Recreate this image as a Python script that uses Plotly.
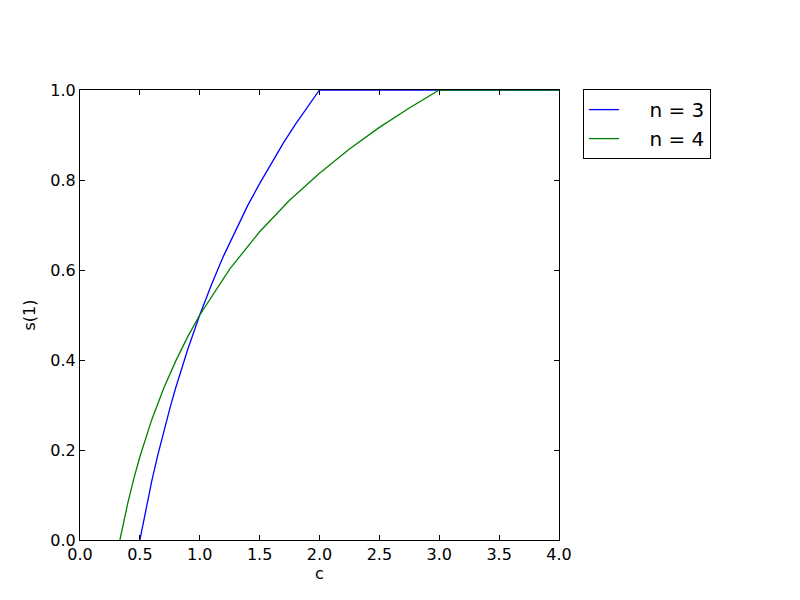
import plotly.graph_objects as go

# n = 3 series
c_n3 = [0.5, 0.525, 0.55, 0.575, 0.6, 0.65, 0.7, 0.75, 0.8, 0.9, 1.0, 1.1, 1.2, 1.3,
        1.4, 1.5, 1.6, 1.7, 1.8, 1.9, 2.0, 4.0]
s_n3 = [0.0, 0.035, 0.069, 0.101, 0.132, 0.189, 0.243, 0.292, 0.339, 0.424, 0.5, 0.569,
        0.632, 0.689, 0.743, 0.792, 0.839, 0.883, 0.924, 0.963, 1.0, 1.0]

# n = 4 series
c_n4 = [0.333, 0.36, 0.4, 0.45, 0.5, 0.6, 0.7, 0.8, 0.9, 1.0, 1.25, 1.5, 1.75, 2.0,
        2.25, 2.5, 2.75, 3.0, 4.0]
s_n4 = [0.0, 0.035, 0.083, 0.137, 0.185, 0.268, 0.338, 0.398, 0.452, 0.5, 0.602, 0.685,
        0.755, 0.815, 0.869, 0.917, 0.960, 1.0, 1.0]

series_names = ["n = 3", "n = 4"]

x_ticks = [0.0, 0.5, 1.0, 1.5, 2.0, 2.5, 3.0, 3.5, 4.0]
y_ticks = [0.0, 0.2, 0.4, 0.6, 0.8, 1.0]

font_family = "DejaVu Sans"
pad = "\u00a0" * 4  # gap between legend line sample and its label

fig = go.Figure()
fig.add_trace(go.Scatter(x=c_n3, y=s_n3, mode="lines", name=pad + series_names[0],
                         line=dict(color="#0000ff", width=1.3)))
fig.add_trace(go.Scatter(x=c_n4, y=s_n4, mode="lines", name=pad + series_names[1],
                         line=dict(color="#008000", width=1.3)))

axis_common = dict(
    showgrid=False, zeroline=False, showline=True, linecolor="black", linewidth=1,
    mirror="ticks", ticks="inside", ticklen=5, tickwidth=1, tickcolor="black",
    tickfont=dict(family=font_family, size=16, color="black"),
)

# page body has an 8px margin, so offsets are compensated here
fig.update_layout(
    width=800, height=600,
    paper_bgcolor="white", plot_bgcolor="white",
    margin=dict(l=72, r=249, t=82, b=68),
    font=dict(family=font_family, color="black"),
    xaxis=dict(range=[0, 4], tickvals=x_ticks, ticktext=[f"{v:.1f}" for v in x_ticks],
               title=dict(text="c", font=dict(size=16), standoff=0), **axis_common),
    yaxis=dict(range=[0, 1], tickvals=y_ticks, ticktext=[f"{v:.1f}" for v in y_ticks],
               title=dict(text="s(1)", font=dict(size=16), standoff=10), **axis_common),
    legend=dict(x=1.05, y=1.002, xanchor="left", yanchor="top",
                bordercolor="black", borderwidth=1, bgcolor="white",
                font=dict(family=font_family, size=20),
                itemwidth=30),
    showlegend=True,
)

fig.write_html("out.html")
